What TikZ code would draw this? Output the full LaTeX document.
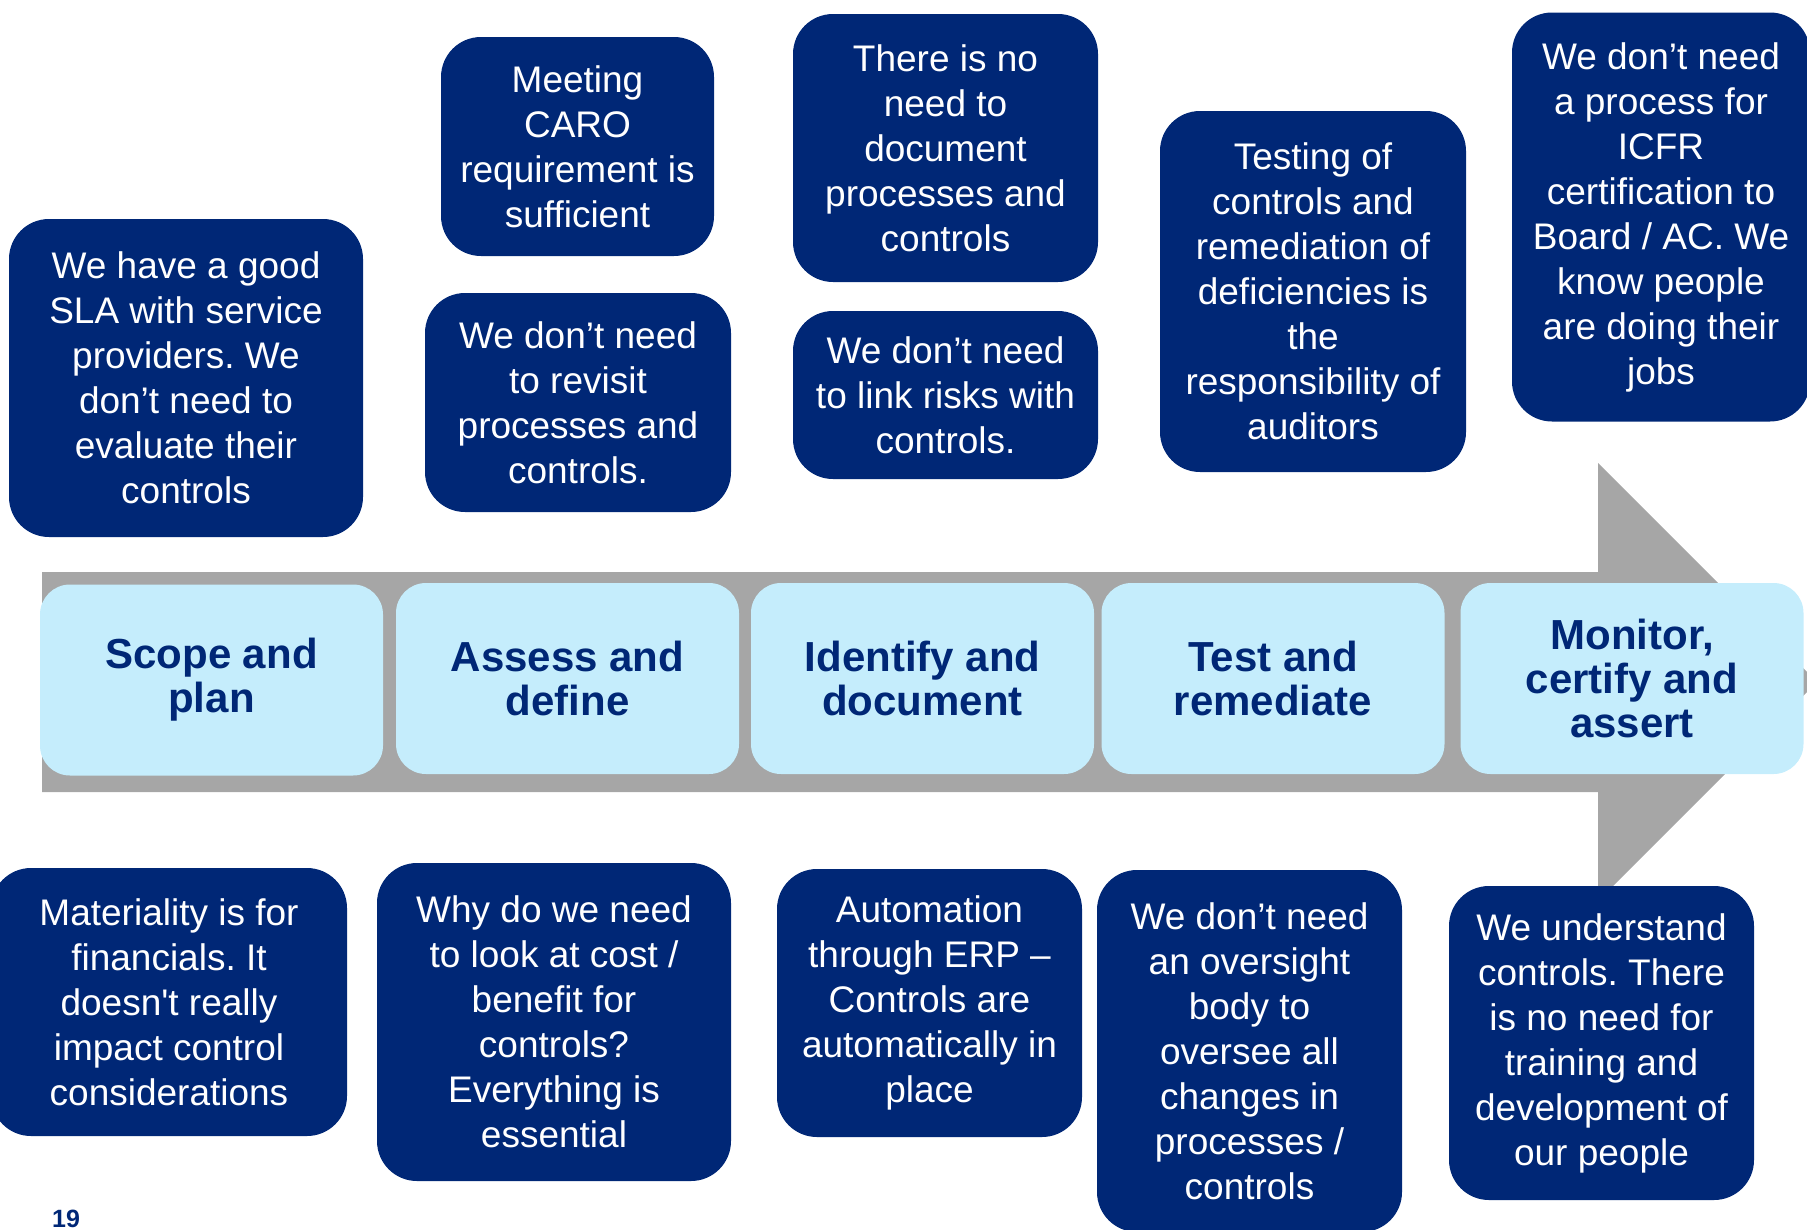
\documentclass[tikz,border=0pt]{standalone}
\usepackage{fontspec}
\setmainfont{Liberation Sans}
\definecolor{dblue}{RGB}{0,39,118}
\definecolor{lblue}{RGB}{197,237,252}
\definecolor{agray}{RGB}{166,166,166}
\frenchspacing
\begin{document}
\begin{tikzpicture}[x=1pt,y=-1pt,
  dbox/.style={fill=dblue, rounded corners=40pt, text=white, align=center, inner sep=0pt,
    font=\fontsize{37}{45}\selectfont},
  sbox/.style={fill=lblue, rounded corners=30pt, text=dblue, align=center, inner sep=0pt,
    minimum width=343pt, minimum height=191pt, font=\fontsize{42}{44}\selectfont\bfseries}]
\useasboundingbox (0,0) rectangle (1807,1229);
\clip (0,0) rectangle (1807,1229);
% arrow
\fill[agray] (42,572) -- (1598,572) -- (1598,463) -- (1817,682) -- (1598,901) -- (1598,792) -- (42,792) -- cycle;
% stage boxes
\node[sbox] (s1) at (211.5,680) {Scope and\\plan};
\node[sbox] (s2) at (567.5,678.5) {Assess and\\define};
\node[sbox] (s3) at (922.5,678.5) {Identify and\\document};
\node[sbox] (s4) at (1273,678.5) {Test and\\remediate};
\node[sbox] (s5) at (1632,678.5) {Monitor,\\certify and\\assert};
% top boxes
\node[dbox, minimum width=354pt, minimum height=318pt] (b1) at (186,378)
  {We have a good\\SLA with service\\providers. We\\don’t need to\\evaluate their\\controls};
\node[dbox, minimum width=273pt, minimum height=219pt] (b2) at (577.5,146.5)
  {Meeting\\CARO\\requirement is\\sufficient};
\node[dbox, minimum width=306pt, minimum height=219pt] (b3) at (578,402.5)
  {We don’t need\\to revisit\\processes and\\controls.};
\node[dbox, minimum width=305pt, minimum height=268pt] (b4) at (945.5,148)
  {There is no\\need to\\document\\processes and\\controls};
\node[dbox, minimum width=305pt, minimum height=168pt] (b5) at (945.5,395)
  {We don’t need\\to link risks with\\controls.};
\node[dbox, minimum width=306pt, minimum height=361pt] (b6) at (1313,291.5)
  {Testing of\\controls and\\remediation of\\deficiencies is\\the\\responsibility of\\auditors};
\node[dbox, minimum width=298pt, minimum height=409pt] (b7) at (1661,217)
  {We don’t need\\a process for\\ICFR\\certification to\\Board / AC. We\\know people\\are doing their\\jobs};
% bottom boxes
\node[dbox, minimum width=356pt, minimum height=268pt] (b8) at (169,1002)
  {Materiality is for\\financials. It\\doesn\textquotesingle t really\\impact control\\considerations};
\node[dbox, minimum width=354pt, minimum height=318pt] (b9) at (554,1022)
  {Why do we need\\to look at cost /\\benefit for\\controls?\\Everything is\\essential};
\node[dbox, minimum width=305pt, minimum height=268pt] (b10) at (929.5,1003)
  {Automation\\through ERP –\\Controls are\\automatically in\\place};
\node[dbox, minimum width=305pt, minimum height=362pt] (b11) at (1249.5,1051)
  {We don’t need\\an oversight\\body to\\oversee all\\changes in\\processes /\\controls};
\node[dbox, minimum width=305pt, minimum height=314pt] (b12) at (1601.5,1043)
  {We understand\\controls. There\\is no need for\\training and\\development of\\our people};
% page number
\node[anchor=base west, inner sep=0pt, text=dblue, font=\fontsize{25}{28}\selectfont\bfseries] (pg) at (52,1227) {19};
\end{tikzpicture}
\end{document}
